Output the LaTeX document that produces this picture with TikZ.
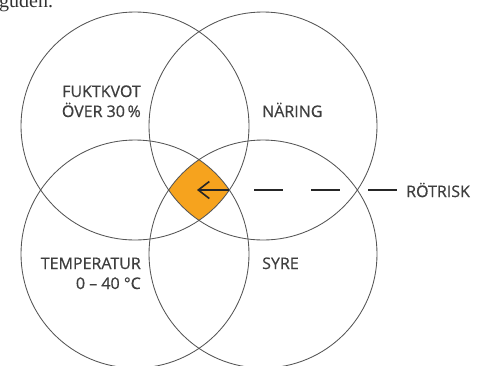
\documentclass[tikz,border=0pt]{standalone}
\usepackage{fontspec}
\setmainfont{Open Sans}
\newfontfamily\labelfont{Open Sans}[FakeBold=0.6]
\newfontfamily\bodyserif{Liberation Serif}
\usetikzlibrary{arrows.meta,positioning,calc}
\definecolor{rotorange}{RGB}{246,163,30}
\definecolor{ringgray}{RGB}{85,85,85}
\definecolor{labelgray}{RGB}{62,62,62}

\begin{document}
\begin{tikzpicture}[x=1pt,y=-1pt,>=Stealth,
    ring/.style={draw=ringgray,line width=0.85pt},
    lbl/.style={font=\labelfont\fontsize{16}{20}\selectfont,text=labelgray,inner sep=0pt,align=right}]
    \useasboundingbox (0,0) rectangle (479,365);
    % cropped line of text above
    \begin{scope}
      \clip (0,0) rectangle (479,365);
      \node[anchor=base west,inner sep=0pt,font=\bodyserif\fontsize{20}{24}\selectfont,text=black!80] (prev) at (-1,7) {guden.};
    \end{scope}
    % circle centres
    \coordinate (fukt) at (135,126);
    \coordinate (nar) at (263,126);
    \coordinate (temp) at (135,254);
    \coordinate (syre) at (263,254);
    % common area
    \begin{scope}
      \clip (fukt) circle (114);
      \clip (nar) circle (114);
      \clip (temp) circle (114);
      \fill[rotorange] (syre) circle (114);
    \end{scope}
    \foreach \c in {fukt,nar,temp,syre}
      \draw[ring] (\c) circle (114);
    % labels
    \node[lbl,anchor=base east] (l1) at (141,117) {FUKTKVOT\\ÖVER 30\,\%};
    \node[lbl,anchor=base west] (l2) at (262,117) {NÄRING};
    \node[lbl,anchor=base east] (l3) at (141,289) {TEMPERATUR\\0 – 40 °C};
    \node[lbl,anchor=base west] (l4) at (262,269) {SYRE};
    \node[lbl,anchor=west,inner sep=3pt] (risk) at (403,190) {RÖTRISK};
    % arrow into the common area
    \coordinate (edge) at (229,190);
    \coordinate (mid) at (197,190);
    \coordinate (lead) at (254,190);
    \draw[-{Straight Barb[length=11pt,width=17pt]},line width=1.6pt,draw=black!85] (edge) -- (mid);
    \draw[line width=1.3pt,draw=black!85,dash pattern=on 29pt off 28pt] (lead) -- (risk.west);
\end{tikzpicture}
\end{document}
